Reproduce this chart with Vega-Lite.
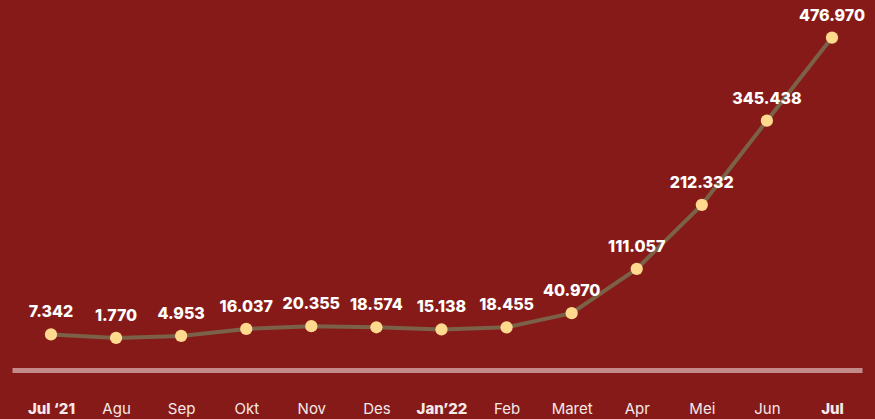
{
  "$schema": "https://vega.github.io/schema/vega-lite/v6.json",
  "autosize": {"type": "none"},
  "padding": {"left": 12, "top": 0, "right": 13, "bottom": 49},
  "width": 850,
  "height": 370,
  "background": "#861A18",
  "config": {"view": {"stroke": null}, "font": "Inter"},
  "data": {"values": [
    {"bulan": "Jul ‘21", "nilai": 7.342},
    {"bulan": "Agu", "nilai": 1.770},
    {"bulan": "Sep", "nilai": 4.953},
    {"bulan": "Okt", "nilai": 16.037},
    {"bulan": "Nov", "nilai": 20.355},
    {"bulan": "Des", "nilai": 18.574},
    {"bulan": "Jan’22", "nilai": 15.138},
    {"bulan": "Feb", "nilai": 18.455},
    {"bulan": "Maret", "nilai": 40.970},
    {"bulan": "Apr", "nilai": 111.057},
    {"bulan": "Mei", "nilai": 212.332},
    {"bulan": "Jun", "nilai": 345.438},
    {"bulan": "Jul", "nilai": 476.970}
  ]},
  "encoding": {
    "x": {
      "field": "bulan", "type": "ordinal", "sort": null,
      "scale": {"type": "point", "padding": 0.53, "align": 0.565},
      "axis": {
        "title": null, "labelAngle": 0, "ticks": false, "grid": false,
        "domainColor": "#C48A8A", "domainWidth": 5, "labelPadding": 31,
        "labelFontSize": 15, "labelColor": "#F5E8E8", "labelFont": "Inter",
        "labelFontWeight": {"condition": {"test": "datum.value == 'Jul ‘21' || datum.value == 'Jan’22' || datum.value == 'Jul'", "value": 800}, "value": "normal"}
      }
    },
    "y": {
      "field": "nilai", "type": "quantitative",
      "scale": {"domain": [-49, 536.4], "nice": false, "zero": false},
      "axis": null
    }
  },
  "layer": [
    {"mark": {"type": "line", "color": "#7A6148", "strokeWidth": 4}},
    {"mark": {"type": "point", "filled": true, "color": "#FFD98E", "opacity": 1, "size": 150, "strokeWidth": 0}},
    {"mark": {"type": "text", "dy": -22, "color": "#FFFFFF", "fontSize": 16, "fontWeight": 800, "font": "Inter"},
     "encoding": {"text": {"field": "nilai", "type": "quantitative", "format": ".3f"}}}
  ]
}
